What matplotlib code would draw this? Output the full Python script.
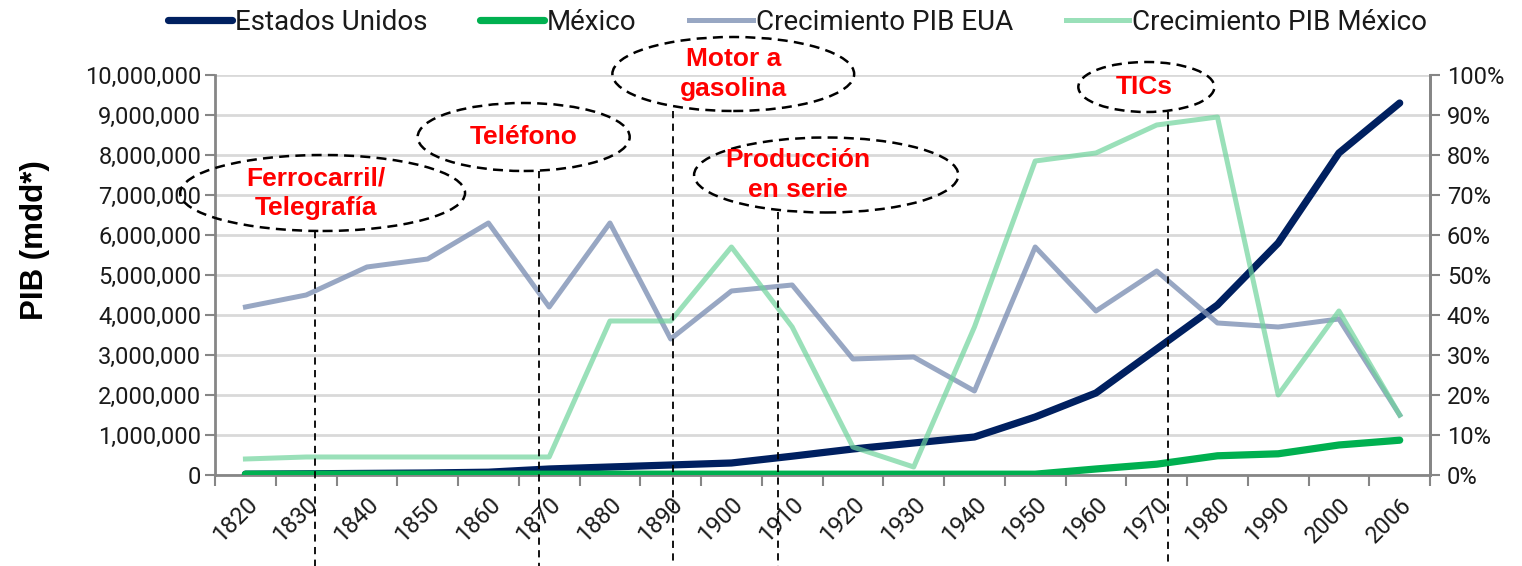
import matplotlib
matplotlib.use("Agg")
import matplotlib.pyplot as plt
import matplotlib.transforms as mtransforms
from matplotlib.patches import Ellipse
from matplotlib.ticker import FuncFormatter, PercentFormatter

years = ["1820", "1830", "1840", "1850", "1860", "1870", "1880", "1890", "1900", "1910",
         "1920", "1930", "1940", "1950", "1960", "1970", "1980", "1990", "2000", "2006"]

# PIB in millions of dollars (left axis)
pib_eua = [20000, 30000, 40000, 50000, 70000, 150000, 200000, 250000, 300000, 470000,
           650000, 800000, 950000, 1450000, 2050000, 3150000, 4250000, 5800000, 8050000, 9300000]
pib_mex = [20000, 20000, 20000, 20000, 20000, 20000, 20000, 20000, 20000, 20000,
           20000, 20000, 20000, 20000, 150000, 270000, 480000, 530000, 750000, 870000]

# growth (right axis, fraction)
crec_eua = [0.42, 0.45, 0.52, 0.54, 0.63, 0.42, 0.63, 0.34, 0.46, 0.475,
            0.29, 0.295, 0.21, 0.57, 0.41, 0.51, 0.38, 0.37, 0.39, 0.15]
crec_mex = [0.04, 0.045, 0.045, 0.045, 0.045, 0.045, 0.385, 0.385, 0.57, 0.37,
            0.07, 0.02, 0.37, 0.785, 0.805, 0.875, 0.895, 0.20, 0.41, 0.15]

# annotations: text, ellipse center x (category units), center y (axes frac), width, height, line x
ann_text = ["Ferrocarril/\nTelegrafía", "Teléfono", "Motor a\ngasolina", "Producción\nen serie", "TICs"]
ann_cx = [1.27, 4.58, 8.03, 9.56, 14.83]
ann_cy = [0.705, 0.845, 1.0025, 0.75, 0.97]
ann_w = [4.69, 3.49, 3.98, 4.35, 2.24]
ann_h = [0.19, 0.17, 0.185, 0.1875, 0.125]
ann_tx = [1.16, 4.58, 8.03, 9.1, 14.8]
ann_line_x = [1.14, 4.84, 7.03, 8.77, 15.18]

plt.rcParams["font.family"] = ["Roboto", "DejaVu Sans"]

fig = plt.figure(figsize=(15.22, 5.66), dpi=100)
ax = fig.add_axes([0.1413, 0.1608, 0.7983, 0.7067])
ax2 = ax.twinx()

x = list(range(len(years)))
grid_c = "#d9d9d9"
spine_c = "#868686"
text_c = "#1a1a1a"

l1, = ax.plot(x, pib_eua, color="#002060", lw=5.2, solid_capstyle="round", zorder=3)
l2, = ax.plot(x, pib_mex, color="#00b050", lw=5.2, solid_capstyle="round", zorder=4)
l3, = ax2.plot(x, crec_eua, color="#7f91b5", lw=3.6, alpha=0.8, zorder=3)
l4, = ax2.plot(x, crec_mex, color="#6fd49c", lw=3.6, alpha=0.7, zorder=4)

ax.set_xlim(-0.5, len(years) - 0.5)
ax.set_ylim(0, 10000000)
ax2.set_ylim(0, 1.0)
ax.set_yticks(range(0, 10000001, 1000000))
ax2.set_yticks([i / 10 for i in range(11)])
ax.yaxis.set_major_formatter(FuncFormatter(lambda v, p: f"{int(v):,}"))
ax2.yaxis.set_major_formatter(PercentFormatter(1.0, decimals=0))

ax.set_xticks(x)
ax.set_xticklabels(years, rotation=45, ha="right", rotation_mode="anchor", fontsize=17)
ax.set_xticks([i - 0.5 for i in range(len(years) + 1)], minor=True)
ax.tick_params(axis="x", which="major", length=0, pad=13, labelcolor=text_c)
ax.tick_params(axis="x", which="minor", length=8, width=1.5, color=spine_c, direction="out")
ax.tick_params(axis="y", length=7, width=1.5, color=spine_c, labelsize=17, pad=3, labelcolor=text_c)
ax2.tick_params(axis="y", length=7, width=1.5, color=spine_c, labelsize=17, pad=5, labelcolor=text_c)

ax.grid(axis="y", color=grid_c, lw=2)
ax.set_axisbelow(True)
for a in (ax, ax2):
    a.spines["top"].set_visible(False)
    for s in ("left", "right", "bottom"):
        a.spines[s].set_color(spine_c)
        a.spines[s].set_linewidth(2)
ax2.spines["left"].set_visible(False)
ax2.spines["bottom"].set_visible(False)

ax.set_ylabel("PIB (mdd*)", family="Liberation Sans", fontweight="bold", fontsize=22.5)
ax.yaxis.set_label_coords(-0.136, 0.5875)

# annotations
trans = mtransforms.blended_transform_factory(ax2.transData, ax2.transAxes)
for t, cx, cy, w, h, tx, lx in zip(ann_text, ann_cx, ann_cy, ann_w, ann_h, ann_tx, ann_line_x):
    e = Ellipse((cx, cy), w, h, transform=trans, fill=False, edgecolor="black",
                lw=1.8, linestyle=(0, (4, 2.5)), clip_on=False, zorder=6)
    ax2.add_patch(e)
    ax2.text(tx, cy, t, transform=trans, ha="center", va="center", color="red",
             family="Liberation Sans", fontweight="bold", fontsize=19,
             linespacing=1.3, zorder=7, clip_on=False)
    ax2.plot([lx, lx], [cy - h / 2, -0.23], transform=trans, color="black", lw=1.3,
             linestyle=(0, (4, 3)), clip_on=False, zorder=6)

leg = fig.legend([l1, l2, l3, l4],
                 ["Estados Unidos", "México", "Crecimiento PIB EUA", "Crecimiento PIB México"],
                 loc="upper center", bbox_to_anchor=(0.524, 1.028), ncol=4, frameon=False,
                 fontsize=20, handlelength=2.3, handletextpad=0.1, columnspacing=1.9,
                 labelcolor=text_c)

fig.savefig("out.png", dpi=100)
